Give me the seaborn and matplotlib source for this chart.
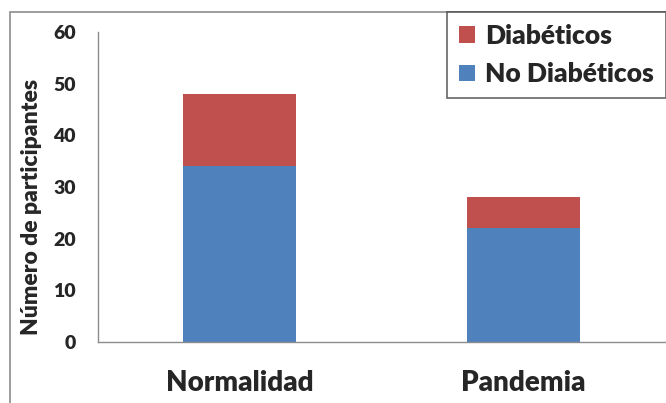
import matplotlib
matplotlib.use("Agg")
import matplotlib.pyplot as plt
import seaborn as sns
import pandas as pd
from matplotlib.patches import Rectangle

periodos = ["Normalidad", "Pandemia"]
no_diabeticos = [34, 22]
diabeticos = [14, 6]

df = pd.DataFrame({"Periodo": periodos,
                   "No Diabéticos": no_diabeticos,
                   "Diabéticos": diabeticos})
df["Total"] = df["No Diabéticos"] + df["Diabéticos"]

sns.set_style("white")
plt.rcParams["font.family"] = ["Lato", "DejaVu Sans"]
plt.rcParams["font.weight"] = "heavy"

azul = "#4F81BD"
rojo = "#C0504D"
gris = "#8C8C8C"

fig = plt.figure(figsize=(6.66, 4.03), dpi=100)
ax = fig.add_axes([98 / 666, 1 - 342 / 403, 567 / 666, 310 / 403])

sns.barplot(data=df, x="Periodo", y="Total", color=rojo, width=0.4,
            saturation=1, linewidth=0, ax=ax, label="Diabéticos")
sns.barplot(data=df, x="Periodo", y="No Diabéticos", color=azul, width=0.4,
            saturation=1, linewidth=0, ax=ax, label="No Diabéticos")
if ax.get_legend() is not None:
    ax.get_legend().remove()

ax.set_xlim(-0.5, 1.5)
ax.set_ylim(0, 60)
ax.set_yticks(range(0, 61, 10))
ax.set_xticks([-0.5, 0.5, 1.5], minor=True)
ax.tick_params(axis="x", which="major", length=0, pad=20, labelsize=20)
ax.tick_params(axis="x", which="minor", length=10, width=1, color=gris, direction="out")
ax.tick_params(axis="y", length=10, width=1, color=gris, direction="out", labelsize=14, pad=6)
for lbl in ax.get_xticklabels() + ax.get_yticklabels():
    lbl.set_fontweight("heavy")

ax.set_xlabel("")
ax.set_ylabel("Número de participantes", fontsize=16.5, fontweight="heavy")
ax.yaxis.set_label_coords(-0.098, 0.435)

for s in ["top", "right"]:
    ax.spines[s].set_visible(False)
for s in ["left", "bottom"]:
    ax.spines[s].set_color(gris)
    ax.spines[s].set_linewidth(1)

# marco exterior del gráfico
fig.patches.append(Rectangle((10 / 666, -0.1), 1.2, 1 - 12 / 403 + 0.1,
                             transform=fig.transFigure, fill=False,
                             edgecolor=gris, linewidth=1.2))

handles, labels = ax.get_legend_handles_labels()
leg = fig.legend(handles, labels, loc="upper right",
                 bbox_to_anchor=(1.0, 1 - 12 / 403), frameon=True,
                 fancybox=False, prop={"weight": "heavy", "size": 19},
                 handlelength=0.6, handleheight=0.6, handletextpad=0.4,
                 borderpad=0.45, labelspacing=0.55, borderaxespad=0)
leg.get_frame().set_edgecolor("#404040")
leg.get_frame().set_linewidth(1.2)

fig.savefig("out.png", dpi=100)
